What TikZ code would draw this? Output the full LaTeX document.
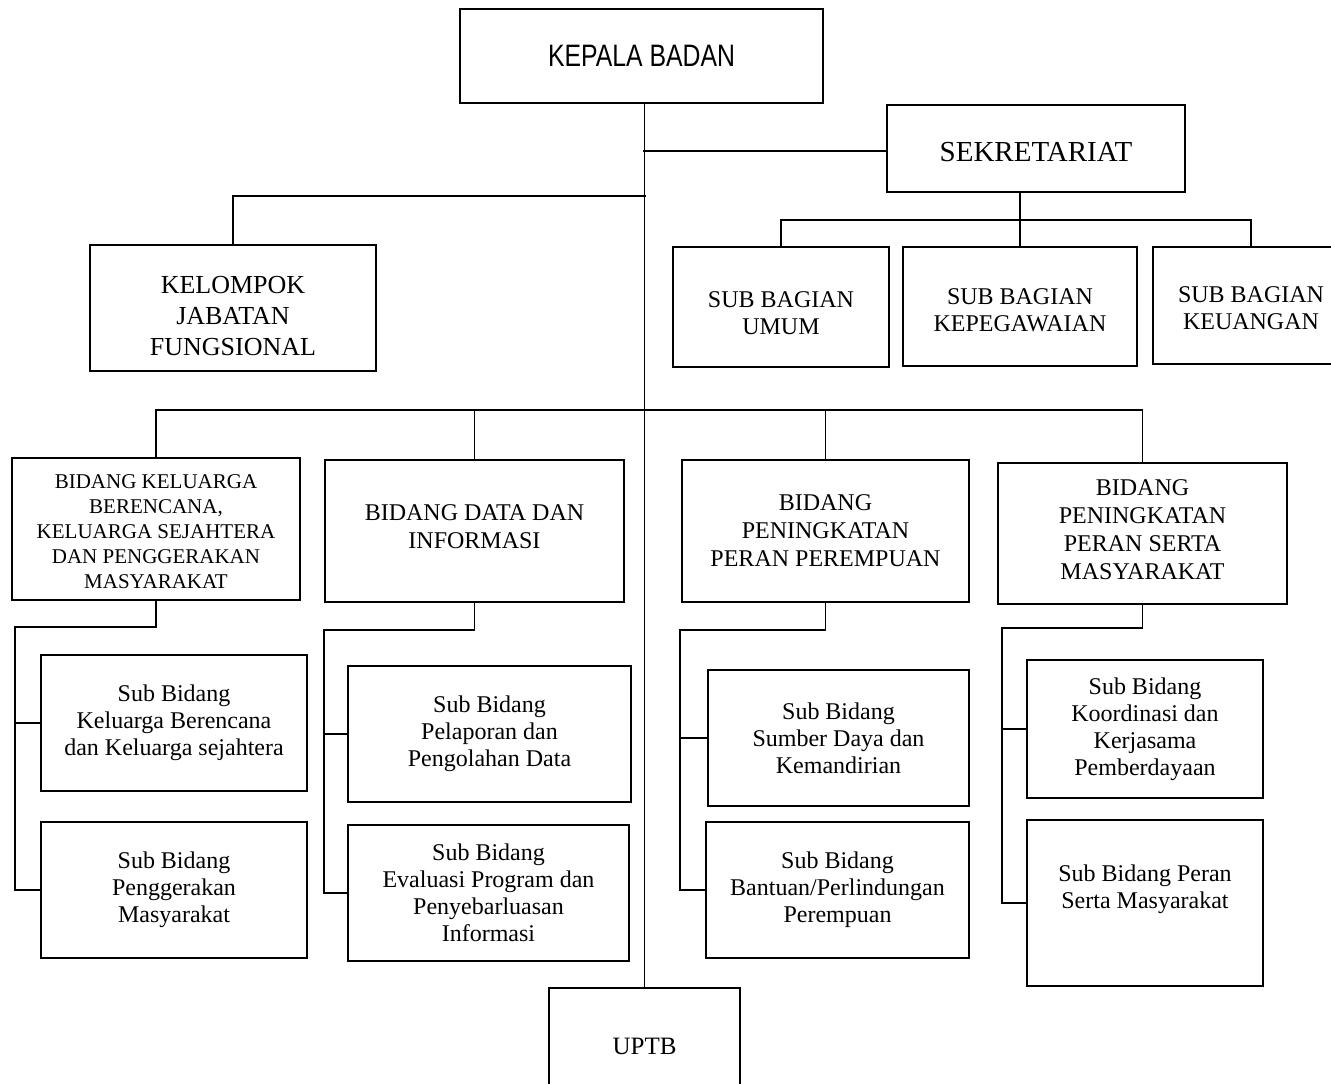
\documentclass[tikz,border=0pt]{standalone}
\usepackage{fontspec}
\setmainfont{Liberation Serif}
\setsansfont{Liberation Sans}
\usepackage{graphicx}
\usepackage{tikz}
\usetikzlibrary{positioning}

\begin{document}
\begin{tikzpicture}[x=1pt, y=-1pt,
		box/.style={draw, line width=1.8pt, inner sep=0pt, align=center, font=\fontsize{24}{27}\selectfont},
		link/.style={line width=1.8pt}]
		\useasboundingbox (0,0) rectangle (1331,1084);
		\clip (0,0) rectangle (1331,1084);

		% Top level
		\node[box, minimum width=363, minimum height=94] (kepala) at (641.5,56) {\scalebox{0.8}[1]{\fontsize{31}{34}\sffamily KEPALA BADAN}};
		\node[box, minimum width=298, minimum height=87, font=\fontsize{29}{33}\selectfont] (sekr) at (1036,148.5) {\mbox{}\\[-6pt]SEKRETARIAT};
		\node[box, minimum width=286, minimum height=126, font=\fontsize{26}{31}\selectfont] (kjf) at (233,308) {\mbox{}\\[2pt]KELOMPOK\\JABATAN\\FUNGSIONAL};

		% Sub bagian under sekretariat
		\node[box, minimum width=216, minimum height=120] (umum) at (781,307) {\mbox{}\\[2pt]SUB BAGIAN\\UMUM};
		\node[box, minimum width=234, minimum height=119] (kepeg) at (1020,306.5) {\mbox{}\\[-4pt]SUB BAGIAN\\KEPEGAWAIAN};
		\node[box, minimum width=196, minimum height=117] (keu) at (1251,305.5) {\mbox{}\\[-6pt]SUB BAGIAN\\KEUANGAN};

		% Bidang
		\node[box, minimum width=288, minimum height=142, font=\fontsize{21}{25}\selectfont] (bkb) at (156,529) {\mbox{}\\[-6pt]BIDANG KELUARGA\\BERENCANA,\\KELUARGA SEJAHTERA\\DAN PENGGERAKAN\\MASYARAKAT};
		\node[box, minimum width=299, minimum height=142, font=\fontsize{24}{28}\selectfont] (bdata) at (474.5,531) {BIDANG DATA DAN\\INFORMASI\\[-20pt]\mbox{}};
		\node[box, minimum width=287, minimum height=142, font=\fontsize{24}{28}\selectfont] (bppp) at (825.5,531) {BIDANG\\PENINGKATAN\\PERAN PEREMPUAN};
		\node[box, minimum width=289, minimum height=141, font=\fontsize{24}{28}\selectfont] (bpsm) at (1142.5,533.5) {BIDANG\\PENINGKATAN\\PERAN SERTA\\MASYARAKAT\\[-20pt]\mbox{}};

		% Sub bidang
		\node[box, minimum width=266, minimum height=136] (kb1) at (174,723) {Sub Bidang\\Keluarga Berencana\\dan Keluarga sejahtera};
		\node[box, minimum width=266, minimum height=136] (kb2) at (174,890) {Sub Bidang\\Penggerakan\\Masyarakat};
		\node[box, minimum width=283, minimum height=136] (d1) at (489.5,734) {Sub Bidang\\Pelaporan dan\\Pengolahan Data};
		\node[box, minimum width=281, minimum height=136] (d2) at (488.5,893) {Sub Bidang\\Evaluasi Program dan\\Penyebarluasan\\Informasi};
		\node[box, minimum width=261, minimum height=136] (p1) at (838.5,738) {Sub Bidang\\Sumber Daya dan\\Kemandirian};
		\node[box, minimum width=263, minimum height=136] (p2) at (837.5,890) {Sub Bidang\\Bantuan/Perlindungan\\Perempuan};
		\node[box, minimum width=236, minimum height=138] (s1) at (1145,729) {Sub Bidang\\Koordinasi dan\\Kerjasama\\Pemberdayaan};
		\node[box, minimum width=236, minimum height=166] (s2) at (1145,903) {Sub Bidang Peran\\Serta Masyarakat\\[6pt]\mbox{}};

		% UPTB
		\node[box, minimum width=191, minimum height=110, font=\fontsize{25}{29}\selectfont] (uptb) at (644.5,1043) {\mbox{}\\[-6pt]UPTB};

		% Junctions
		\coordinate (jf) at (646,196);
		\coordinate (sbus) at (1020,220);
		\coordinate (bus) at (646,410);
		\coordinate (kbrail) at (15,627);
		\coordinate (drail) at (324,630);
		\coordinate (prail) at (680,630);
		\coordinate (srail) at (1002,628);

		% Main trunk
		\draw[link] (kepala.south -| uptb.north) -- (uptb.north);
		\draw[link] (sekr.west) ++(0,2.5) -- ++(-243,0);
		\draw[link] (kjf.north) |- (jf);

		% Sekretariat branches
		\draw[link] (sekr.south -| kepeg.north) -- (kepeg.north);
		\draw[link] (umum.north) |- (sbus) -| (keu.north);

		% Bidang branches
		\draw[link] (bkb.north) |- (bus) -| (bpsm.north);
		\draw[link] (bdata.north) -- (bdata.north |- bus);
		\draw[link] (bppp.north) -- (bppp.north |- bus);

		% Sub bidang branches
		\draw[link] (bkb.south) |- (kbrail) |- (kb2.west);
		\draw[link] (kb1.west) -- (kb1.west -| kbrail);
		\draw[link] (bdata.south) |- (drail) |- (d2.west);
		\draw[link] (d1.west) -- (d1.west -| drail);
		\draw[link] (bppp.south) |- (prail) |- (p2.west);
		\draw[link] (p1.west) -- (p1.west -| prail);
		\draw[link] (bpsm.south) |- (srail) |- (s2.west);
		\draw[link] (s1.west) -- (s1.west -| srail);
	\end{tikzpicture}
\end{document}
